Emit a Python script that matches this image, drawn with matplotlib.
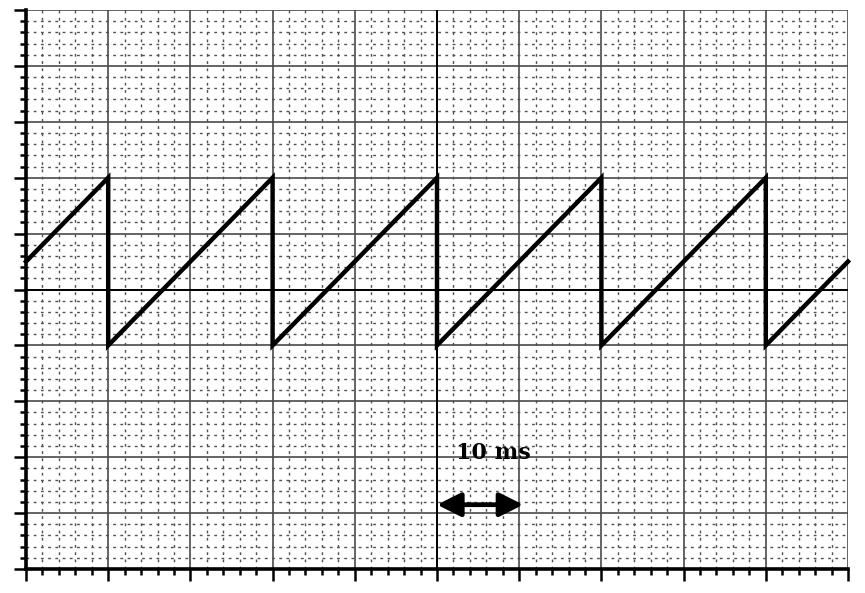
import numpy as np
import matplotlib.pyplot as plt
from matplotlib.ticker import MultipleLocator

# sawtooth corners (time in ms, level in divisions)
t_ms = [0, 10, 10, 30, 30, 50, 50, 70, 70, 90, 90, 100]
level = [0.5, 2, -1, 2, -1, 2, -1, 2, -1, 2, -1, 0.5]

marker_start = 50   # ms, start of the 10 ms marker
marker_len = 10.5   # ms (drawn length of the arrow)
marker_label = '10 ms'

fig = plt.figure(figsize=(8.65, 5.93), dpi=100)
ax = fig.add_axes([26 / 865, 1 - 569 / 593, 822 / 865, 559 / 593])

ax.set_xlim(0, 100)
ax.set_ylim(-5, 5)

ax.xaxis.set_major_locator(MultipleLocator(10))
ax.xaxis.set_minor_locator(MultipleLocator(2))
ax.yaxis.set_major_locator(MultipleLocator(1))
ax.yaxis.set_minor_locator(MultipleLocator(0.2))

# graticule
ax.grid(which='minor', color='#505050', linestyle=(0, (2, 3.2)), linewidth=1.0)
ax.grid(which='major', color='#4a4a4a', linestyle='-', linewidth=1.2)
xg = ax.get_xgridlines()
yg = ax.get_ygridlines()
xg[-1].set_visible(False)
yg[-1].set_visible(False)
ax.axhline(0, color='black', lw=1.4)
ax.axvline(50, color='black', lw=1.4)

# frame: only left and bottom, ticks pointing out
for s in ['top', 'right']:
    ax.spines[s].set_visible(False)
for s in ['left', 'bottom']:
    ax.spines[s].set_linewidth(2.6)
ax.tick_params(which='major', direction='out', length=8.5, width=1.8,
               labelbottom=False, labelleft=False)
ax.tick_params(which='minor', direction='out', length=4.5, width=1.8)

ax.plot(t_ms, level, color='black', lw=3.2, solid_joinstyle='miter', clip_on=False)

ax.annotate('', xy=(marker_start, -3.85), xytext=(marker_start + marker_len, -3.85),
            arrowprops=dict(arrowstyle='<|-|>,head_length=0.6,head_width=0.3',
                            color='black', lw=3.4, mutation_scale=24,
                            shrinkA=0, shrinkB=0))
ax.text(marker_start + 0.5 * marker_len + 1.6, -2.93, marker_label, ha='center', va='center',
        fontsize=16, fontweight='bold', family='DejaVu Serif')

fig.savefig('out.png', dpi=100)
